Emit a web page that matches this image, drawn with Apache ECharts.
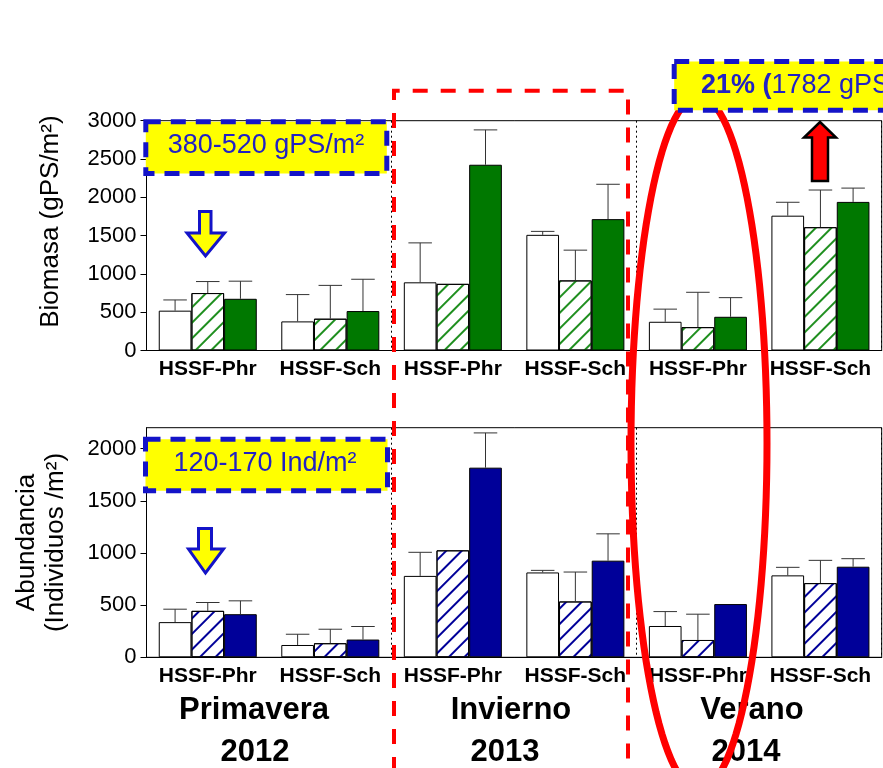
<!DOCTYPE html>
<html>
<head>
<meta charset="utf-8">
<script src="https://cdn.jsdelivr.net/npm/echarts@6/dist/echarts.min.js"></script>
<style>html,body{margin:0;padding:0;background:#fff}#main{width:883px;height:768px}</style>
</head>
<body>
<div id="main"></div>
<script>
// categorias del eje x
var categorias = ['HSSF-Phr', 'HSSF-Sch', 'HSSF-Phr', 'HSSF-Sch', 'HSSF-Phr', 'HSSF-Sch'];
var temporadas = ['Primavera', 'Invierno', 'Verano'];
var anios = ['2012', '2013', '2014'];

// Biomasa (gPS/m2)
var bioBlanco = [520, 380, 890, 1510, 375, 1760];
var bioRayado = [750, 415, 870, 915, 305, 1610];
var bioVerde = [675, 515, 2425, 1715, 440, 1940];
var bioBlancoErr = [140, 350, 515, 45, 165, 175];
var bioRayadoErr = [150, 435, 0, 395, 455, 485];
var bioVerdeErr = [230, 415, 455, 455, 250, 180];

// Abundancia (Individuos/m2)
var abuBlanco = [337, 118, 780, 813, 300, 785];
var abuRayado = [445, 135, 1025, 535, 166, 711];
var abuAzul = [413, 170, 1817, 926, 510, 868];
var abuBlancoErr = [124, 103, 226, 20, 138, 77];
var abuRayadoErr = [80, 134, 0, 282, 247, 218];
var abuAzulErr = [128, 125, 333, 257, 0, 77];

// ticks del eje y
var ticksBio = [0, 500, 1000, 1500, 2000, 2500, 3000];
var ticksAbu = [0, 500, 1000, 1500, 2000];

var FONT = 'Liberation Sans, Arial, sans-serif';

function barra(vals, eje, relleno, rayado) {
  var estilo = { color: relleno, borderColor: '#000', borderWidth: 1 };
  if (rayado) {
    estilo.decal = {
      symbol: 'rect', symbolSize: 1, color: rayado,
      dashArrayX: [1, 0], dashArrayY: [2, 9], rotation: -Math.PI / 4
    };
  }
  return {
    type: 'bar', xAxisIndex: eje, yAxisIndex: eje, data: vals,
    barGap: '0%', barCategoryGap: '20%', itemStyle: estilo, silent: true, z: 2
  };
}

// barras de error (solo hacia arriba)
function error(vals, errs, k, eje) {
  return {
    type: 'custom', xAxisIndex: eje, yAxisIndex: eje, silent: true, z: 3,
    data: vals.map(function (v, i) { return [i, v, v + errs[i]]; }),
    renderItem: function (params, api) {
      if (api.value(2) <= api.value(1)) return;
      var i = api.value(0);
      var lo = api.coord([i, api.value(1)]);
      var hi = api.coord([i, api.value(2)]);
      var ancho = api.size([1, 0])[0] * 0.8 / 3;
      var x = lo[0] + (k - 1) * ancho;
      var cap = ancho * 0.36;
      return {
        type: 'group', children: [
          { type: 'line', shape: { x1: x, y1: lo[1], x2: x, y2: hi[1] }, style: { stroke: '#333', lineWidth: 1 } },
          { type: 'line', shape: { x1: x - cap, y1: hi[1], x2: x + cap, y2: hi[1] }, style: { stroke: '#333', lineWidth: 1 } }
        ]
      };
    }
  };
}

function ejeX(idx) {
  return {
    type: 'category', gridIndex: idx, data: categorias,
    axisLine: { lineStyle: { color: '#000', width: 1 } },
    axisTick: { alignWithLabel: true, length: 5, lineStyle: { color: '#000' } },
    axisLabel: { interval: 0, fontSize: 21, fontWeight: 'bold', color: '#000', margin: 8, fontFamily: FONT },
    splitLine: {
      show: true,
      interval: function (i) { return i === 2 || i === 4; },
      lineStyle: { color: '#000', type: [2, 3], width: 1 }
    }
  };
}

function ejeY(idx, max, ticks, nombre, gap, pad, lh) {
  return {
    type: 'value', gridIndex: idx, min: 0, max: max, interval: 500,
    name: nombre, nameLocation: 'middle', nameGap: gap,
    nameTextStyle: { fontSize: 26, color: '#000', fontFamily: FONT, padding: pad, lineHeight: lh },
    axisLine: { show: true, lineStyle: { color: '#000', width: 1 } },
    axisTick: { show: true, length: 6, customValues: ticks, lineStyle: { color: '#000' } },
    axisLabel: {
      fontSize: 22, color: '#000', margin: 10, customValues: ticks, fontFamily: FONT,
      formatter: function (v) { return String(v); }
    },
    splitLine: { show: false }
  };
}

// elipse roja
var elipse = [];
for (var a = 0; a < 360; a += 3) {
  var t = a * Math.PI / 180;
  elipse.push([699 + 68 * Math.cos(t), 443 + 347 * Math.sin(t)]);
}

var cajaEstilo = { fill: '#ffff00', stroke: '#1414c8', lineWidth: 5, lineDash: [15, 10] };
var textoCaja = { fill: '#2222c4', font: '27px ' + FONT, textAlign: 'center', textVerticalAlign: 'middle' };

var graficos = [
  // rectangulo rojo discontinuo
  { type: 'polyline', z: 100, shape: { points: [[394, 800], [394, 90.7], [628, 90.7], [628, 800]] },
    style: { stroke: '#ff0000', lineWidth: 4, lineDash: [15, 13], fill: null } },
  { type: 'rect', z: 100, shape: { x: 145.8, y: 121.8, width: 241, height: 51.7 }, style: cajaEstilo },
  { type: 'text', z: 101, style: Object.assign({ text: '380-520 gPS/m²', x: 266, y: 146 }, textoCaja) },
  { type: 'rect', z: 100, shape: { x: 145.5, y: 439.2, width: 242, height: 51.6 }, style: cajaEstilo },
  { type: 'text', z: 101, style: Object.assign({ text: '120-170 Ind/m²', x: 265, y: 464 }, textoCaja) },
  // flechas amarillas
  { type: 'polygon', z: 100, shape: { points: [[199.5, 211.5], [211, 211.5], [211, 233], [224.5, 233], [205.5, 256], [187, 233], [199.5, 233]] },
    style: { fill: '#ffff00', stroke: '#1414c8', lineWidth: 3 } },
  { type: 'polygon', z: 100, shape: { points: [[198.5, 528.5], [211.5, 528.5], [211.5, 549], [223.5, 549], [205.5, 573], [188.5, 549], [198.5, 549]] },
    style: { fill: '#ffff00', stroke: '#1414c8', lineWidth: 3 } },
  // flecha roja
  { type: 'polygon', z: 100, shape: { points: [[820, 122], [836, 137.5], [828, 137.5], [828, 181], [812, 181], [812, 137.5], [804, 137.5]] },
    style: { fill: '#ff0000', stroke: '#000', lineWidth: 2.5 } }
];

// temporadas
var temporadaX = [254, 511, 752];
var anioX = [255, 505, 746];
temporadas.forEach(function (s, i) {
  graficos.push({ type: 'text', z: 100, style: { text: s, x: temporadaX[i], y: 710, fill: '#000', font: 'bold 31px ' + FONT, textAlign: 'center', textVerticalAlign: 'middle' } });
  graficos.push({ type: 'text', z: 100, style: { text: anios[i], x: anioX[i], y: 752, fill: '#000', font: 'bold 31px ' + FONT, textAlign: 'center', textVerticalAlign: 'middle' } });
});

graficos.push({ type: 'polygon', z: 102, shape: { points: elipse }, style: { fill: null, stroke: '#ff0000', lineWidth: 7 } });
graficos.push({ type: 'rect', z: 103, shape: { x: 674.2, y: 61.5, width: 260, height: 48.7 }, style: cajaEstilo });
graficos.push({ type: 'text', z: 104, style: {
  text: '{b|21% (}{n|1782 gPS/m²)}', x: 701, y: 86, textAlign: 'left', textVerticalAlign: 'middle',
  rich: {
    b: { fontWeight: 'bold', fontSize: 27, fontFamily: FONT, fill: '#2222c4' },
    n: { fontSize: 27, fontFamily: FONT, fill: '#2222c4' }
  }
} });

var option = {
  animation: false,
  backgroundColor: '#fff',
  textStyle: { fontFamily: FONT },
  grid: [
    { left: 146.5, right: 1.3, top: 120.7, height: 229.8, show: true, borderColor: '#000', borderWidth: 1 },
    { left: 146.5, right: 1.3, top: 427.7, height: 229.6, show: true, borderColor: '#000', borderWidth: 1 }
  ],
  xAxis: [ejeX(0), ejeX(1)],
  yAxis: [
    ejeY(0, 3000, ticksBio, 'Biomasa (gPS/m²)', 81, [0, 0, 0, 28], 30),
    ejeY(1, 2200, ticksAbu, 'Abundancia\n(Individuos /m²)', 76, 0, 29)
  ],
  series: [
    barra(bioBlanco, 0, '#fff'),
    barra(bioRayado, 0, '#fff', '#1f8f1f'),
    barra(bioVerde, 0, '#007800'),
    error(bioBlanco, bioBlancoErr, 0, 0),
    error(bioRayado, bioRayadoErr, 1, 0),
    error(bioVerde, bioVerdeErr, 2, 0),
    barra(abuBlanco, 1, '#fff'),
    barra(abuRayado, 1, '#fff', '#000099'),
    barra(abuAzul, 1, '#000099'),
    error(abuBlanco, abuBlancoErr, 0, 1),
    error(abuRayado, abuRayadoErr, 1, 1),
    error(abuAzul, abuAzulErr, 2, 1)
  ],
  graphic: graficos
};

var chart = echarts.init(document.getElementById('main'));
chart.setOption(option);
</script>
</body>
</html>
